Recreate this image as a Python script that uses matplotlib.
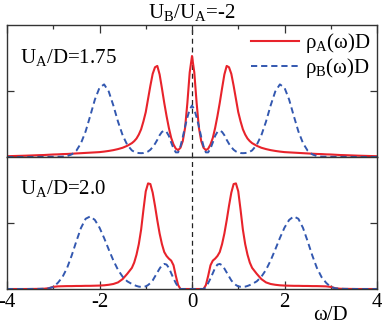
import numpy as np
import matplotlib
matplotlib.use("Agg")
import matplotlib.pyplot as plt
from matplotlib.ticker import MultipleLocator

plt.rcParams['font.family'] = ['Liberation Serif', 'DejaVu Serif']
plt.rcParams['mathtext.fontset'] = 'custom'
plt.rcParams['mathtext.rm'] = 'Liberation Serif'
plt.rcParams['mathtext.it'] = 'Liberation Serif:italic'
plt.rcParams['axes.unicode_minus'] = False

# frequency grid omega/D
omega = [-4.0, -3.6, -3.3, -3.2, -3.1, -3.0, -2.9, -2.8, -2.7, -2.6, -2.5, -2.4, -2.3, -2.2, -2.1,
         -2.0, -1.9, -1.8, -1.7, -1.6, -1.5, -1.4, -1.3, -1.25, -1.2, -1.15, -1.1, -1.05, -1.0,
         -0.95, -0.9, -0.85, -0.8, -0.75, -0.7, -0.65, -0.6, -0.55, -0.5, -0.45, -0.4, -0.35,
         -0.3, -0.25, -0.2, -0.15, -0.1, -0.05, 0.0,
         0.05, 0.1, 0.15, 0.2, 0.25, 0.3, 0.35, 0.4, 0.45, 0.5, 0.55, 0.6, 0.65, 0.7, 0.75, 0.8,
         0.85, 0.9, 0.95, 1.0, 1.05, 1.1, 1.15, 1.2, 1.25, 1.3, 1.4, 1.5, 1.6, 1.7, 1.8, 1.9, 2.0,
         2.1, 2.2, 2.3, 2.4, 2.5, 2.6, 2.7, 2.8, 2.9, 3.0, 3.1, 3.2, 3.3, 3.6, 4.0]

# U_A/D = 1.75
rhoA_175 = [0.006, 0.010, 0.014, 0.015, 0.017, 0.019, 0.020, 0.022, 0.023, 0.025, 0.027, 0.029, 0.031,
            0.033, 0.035, 0.037, 0.041, 0.046, 0.052, 0.060, 0.070, 0.085, 0.105, 0.120, 0.140, 0.170,
            0.210, 0.270, 0.340, 0.440, 0.540, 0.630, 0.680, 0.690, 0.625, 0.520, 0.410, 0.310, 0.220,
            0.145, 0.095, 0.063, 0.052, 0.070, 0.120, 0.220, 0.410, 0.640, 0.765,
            0.640, 0.410, 0.220, 0.120, 0.070, 0.052, 0.063, 0.095, 0.145, 0.220, 0.310, 0.410, 0.520,
            0.625, 0.690, 0.680, 0.630, 0.540, 0.440, 0.340, 0.270, 0.210, 0.170, 0.140, 0.120, 0.105,
            0.085, 0.070, 0.060, 0.052, 0.046, 0.041, 0.037, 0.035, 0.033, 0.031, 0.029, 0.027, 0.025,
            0.023, 0.022, 0.020, 0.019, 0.017, 0.015, 0.014, 0.010, 0.006]
rhoB_175 = [0.000, 0.000, 0.001, 0.001, 0.001, 0.002, 0.002, 0.003, 0.007, 0.020, 0.048, 0.105, 0.194,
            0.312, 0.435, 0.525, 0.550, 0.496, 0.390, 0.268, 0.165, 0.092, 0.050, 0.040, 0.033, 0.030,
            0.029, 0.030, 0.034, 0.042, 0.055, 0.075, 0.100, 0.130, 0.165, 0.190, 0.200, 0.190, 0.160,
            0.110, 0.065, 0.035, 0.035, 0.080, 0.150, 0.230, 0.300, 0.360, 0.390,
            0.360, 0.300, 0.230, 0.150, 0.080, 0.035, 0.035, 0.065, 0.110, 0.160, 0.190, 0.200, 0.190,
            0.165, 0.130, 0.100, 0.075, 0.055, 0.042, 0.034, 0.030, 0.029, 0.030, 0.033, 0.040, 0.050,
            0.092, 0.165, 0.268, 0.390, 0.496, 0.550, 0.525, 0.435, 0.312, 0.194, 0.105, 0.048, 0.020,
            0.007, 0.003, 0.002, 0.002, 0.001, 0.001, 0.001, 0.000, 0.000]

# U_A/D = 2.0
rhoA_20 = [0.000, 0.000, 0.001, 0.002, 0.006, 0.016, 0.020, 0.021, 0.022, 0.022, 0.023, 0.023, 0.024,
           0.024, 0.025, 0.026, 0.028, 0.032, 0.038, 0.050, 0.075, 0.115, 0.160, 0.200, 0.260, 0.340,
           0.450, 0.600, 0.740, 0.800, 0.795, 0.730, 0.630, 0.520, 0.420, 0.340, 0.280, 0.250, 0.230,
           0.215, 0.180, 0.100, 0.030, 0.000, 0.000, 0.000, 0.000, 0.000, 0.000,
           0.000, 0.000, 0.000, 0.000, 0.000, 0.030, 0.100, 0.180, 0.215, 0.230, 0.250, 0.280, 0.340,
           0.420, 0.520, 0.630, 0.730, 0.795, 0.800, 0.740, 0.600, 0.450, 0.340, 0.260, 0.200, 0.160,
           0.115, 0.075, 0.050, 0.038, 0.032, 0.028, 0.026, 0.025, 0.024, 0.024, 0.023, 0.023, 0.022,
           0.022, 0.021, 0.020, 0.016, 0.006, 0.002, 0.001, 0.000, 0.000]
rhoB_20 = [0.000, 0.000, 0.001, 0.002, 0.005, 0.015, 0.047, 0.091, 0.160, 0.255, 0.362, 0.463, 0.532,
           0.550, 0.523, 0.465, 0.386, 0.299, 0.216, 0.145, 0.093, 0.058, 0.038, 0.030, 0.023, 0.018,
           0.016, 0.017, 0.020, 0.030, 0.045, 0.065, 0.095, 0.125, 0.155, 0.180, 0.190, 0.185, 0.160,
           0.120, 0.080, 0.045, 0.015, 0.000, 0.000, 0.000, 0.000, 0.000, 0.000,
           0.000, 0.000, 0.000, 0.000, 0.000, 0.015, 0.045, 0.080, 0.120, 0.160, 0.185, 0.190, 0.180,
           0.155, 0.125, 0.095, 0.065, 0.045, 0.030, 0.020, 0.017, 0.016, 0.018, 0.023, 0.030, 0.038,
           0.058, 0.093, 0.145, 0.216, 0.299, 0.386, 0.465, 0.523, 0.550, 0.532, 0.463, 0.362, 0.255,
           0.160, 0.091, 0.047, 0.015, 0.005, 0.002, 0.001, 0.000, 0.000]

panel_labels = [r'U$_\mathrm{A}$/D=1.75', r'U$_\mathrm{A}$/D=2.0']
title = r'U$_\mathrm{B}$/U$_\mathrm{A}$=-2'
legend_labels = [r'ρ$_\mathrm{A}$(ω)D', r'ρ$_\mathrm{B}$(ω)D']
xticks = [-4, -2, 0, 2, 4]

RED = '#e8232b'
BLUE = '#3358b0'
FS = 15

fig = plt.figure(figsize=(3.82, 3.26), dpi=100)
W, H = 382, 326
x0, x1 = 7, 377
ax_top = fig.add_axes([x0 / W, (H - 157) / H, (x1 - x0) / W, 132 / H])
ax_bot = fig.add_axes([x0 / W, (H - 289) / H, (x1 - x0) / W, 132 / H], sharex=ax_top)

panels = [(ax_top, rhoA_175, rhoB_175, panel_labels[0]),
          (ax_bot, rhoA_20, rhoB_20, panel_labels[1])]
for ax, ra, rb, lab in panels:
    la, = ax.plot(omega, ra, color=RED, lw=1.5, solid_joinstyle='round')
    lb, = ax.plot(omega, rb, color=BLUE, lw=1.4, ls=(0, (3.2, 2.0)))
    ax.axvline(0, color='#222222', lw=0.9, ls=(0, (4, 3)), zorder=0)
    ax.set_xlim(-4, 4)
    ax.set_ylim(0, 1)
    ax.set_yticks([0.5])
    ax.yaxis.set_major_formatter(plt.NullFormatter())
    ax.xaxis.set_minor_locator(MultipleLocator(1))
    ax.text(0.035, 0.71 if ax is ax_top else 0.72, lab, transform=ax.transAxes,
            fontsize=FS, va='baseline', ha='left')
    for s in ax.spines.values():
        s.set_color('#333333')
        s.set_linewidth(1.0)

ax_top.tick_params(axis='x', which='both', direction='in', top=True, bottom=False,
                   labelbottom=False, labeltop=False)
ax_top.tick_params(axis='x', which='major', length=6, width=0.9, color='#333333')
ax_top.tick_params(axis='x', which='minor', length=3, width=0.9, color='#333333')
ax_top.tick_params(axis='y', direction='in', left=True, right=True, length=5, width=0.9,
                   color='#333333')

ax_bot.set_xticks(xticks)
ax_bot.set_xticklabels([str(t) for t in xticks])
ax_bot.tick_params(axis='x', which='both', direction='in', top=False, bottom=True,
                   labelsize=FS, pad=3)
ax_bot.tick_params(axis='x', which='major', length=6, width=0.9, color='#333333')
ax_bot.tick_params(axis='x', which='minor', length=3, width=0.9, color='#333333')
ax_bot.tick_params(axis='y', direction='in', left=True, right=True, length=5, width=0.9,
                   color='#333333')

ax_bot.set_xlabel('ω/D', fontsize=FS)
ax_bot.xaxis.set_label_coords(0.873, -0.13)

ax_top.legend([la, lb], legend_labels, loc='upper right', frameon=False, fontsize=FS,
              handlelength=2.3, handletextpad=0.3, labelspacing=0.05,
              borderaxespad=0.1, borderpad=0.2)

fig.text((x0 + x1) / 2 / W, (H - 18) / H, title, ha='center', va='baseline', fontsize=FS)

fig.savefig('out.png', dpi=100)
